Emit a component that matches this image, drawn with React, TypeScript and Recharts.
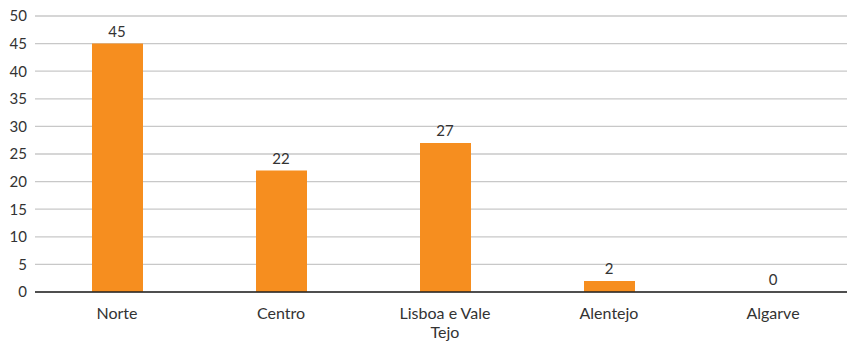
import React from "react";
import { ComposedChart, Bar, Line, XAxis, YAxis, CartesianGrid, LabelList, Text } from "recharts";

const categories = ["Norte", "Centro", "Lisboa e Vale Tejo", "Alentejo", "Algarve"];
const values = [45, 22, 27, 2, 0];
const yTicks = [0, 5, 10, 15, 20, 25, 30, 35, 40, 45, 50];

const data = categories.map((c, i) => ({ name: c, value: values[i] }));

const FONT = "Lato, 'Open Sans', sans-serif";

const CustomTick = (props: any) => {
  const { x, y, payload } = props;
  return (
    <Text
      x={x}
      y={y + 8}
      width={110}
      textAnchor="middle"
      verticalAnchor="start"
      lineHeight={19}
      fill="#333"
      fontSize={16}
      fontFamily={FONT}
    >
      {payload.value}
    </Text>
  );
};

export default function App() {
  return (
    <div style={{ position: "absolute", left: 0, top: 0, width: 847, height: 342, overflow: "hidden", background: "#fff" }}>
      <ComposedChart
        width={855}
        height={342}
        data={data}
        margin={{ top: 16, right: 0, left: 0, bottom: 20 }}
      >
        <CartesianGrid vertical={false} stroke="#c8c8c8" strokeWidth={1.3} />
        <XAxis
          dataKey="name"
          height={30}
          tickLine={false}
          axisLine={{ stroke: "#222", strokeWidth: 1.3 }}
          tick={<CustomTick />}
          interval={0}
        />
        <YAxis
          width={35}
          domain={[0, 50]}
          ticks={yTicks}
          tickLine={false}
          axisLine={false}
          tick={{ fill: "#333", fontSize: 15, fontFamily: FONT }}
          interval={0}
        />
        <Bar dataKey="value" fill="#F68E1F" barSize={51} isAnimationActive={false} />
        <Line
          dataKey="value"
          stroke="none"
          dot={false}
          activeDot={false}
          isAnimationActive={false}
        >
          <LabelList
            dataKey="value"
            position="top"
            offset={7}
            fill="#333"
            fontSize={15}
            fontFamily={FONT}
          />
        </Line>
      </ComposedChart>
    </div>
  );
}
